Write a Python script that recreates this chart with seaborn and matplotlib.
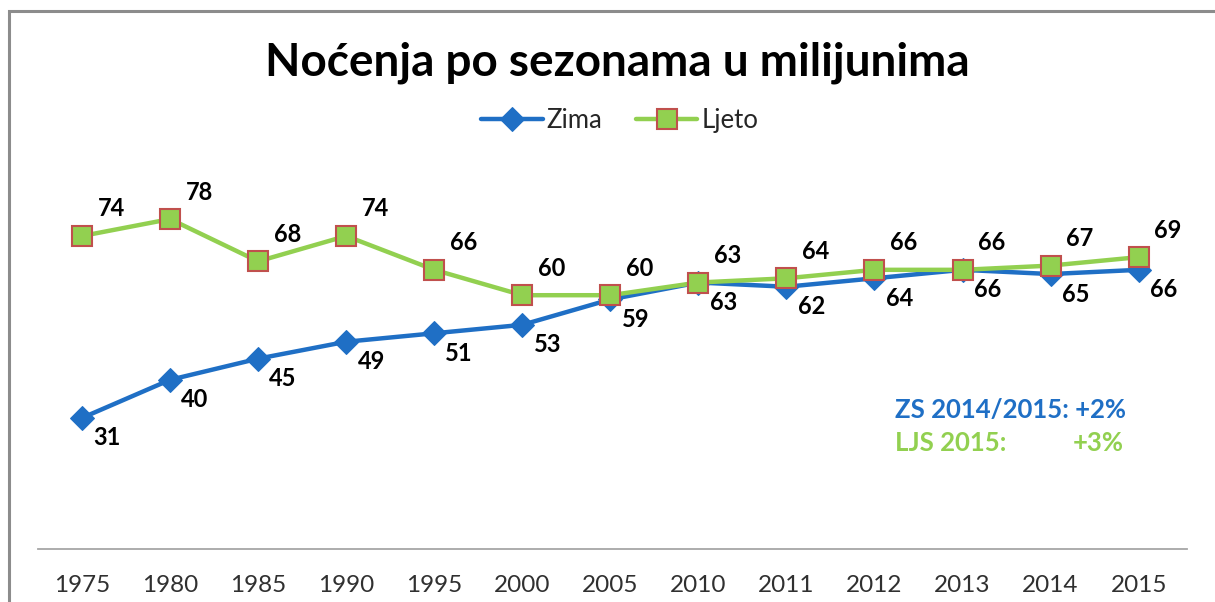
import numpy as np
import pandas as pd
import matplotlib
matplotlib.use("Agg")
import matplotlib.pyplot as plt
import seaborn as sns
from matplotlib.patches import Rectangle

# podaci (milijuni nocenja)
godine = ["1975", "1980", "1985", "1990", "1995", "2000", "2005",
          "2010", "2011", "2012", "2013", "2014", "2015"]
zima = [31, 40, 45, 49, 51, 53, 59, 63, 62, 64, 66, 65, 66]
ljeto = [74, 78, 68, 74, 66, 60, 60, 63, 64, 66, 66, 67, 69]

sns.set_theme(style="white")
plt.rcParams["font.family"] = ["Lato", "DejaVu Sans"]

plava = "#1F6FC5"
zelena = "#92D050"
crvena = "#C0504D"

poz = np.arange(len(godine))
df = pd.DataFrame({"poz": poz, "Zima": zima, "Ljeto": ljeto})

fig = plt.figure(figsize=(12.15, 6.02), dpi=100)
ax = fig.add_axes([0.0313, 0.088, 0.9457, 0.7027])

sns.lineplot(data=df, x="poz", y="Zima", ax=ax, color=plava, linewidth=3.2,
             marker="D", markersize=12.5, markerfacecolor=plava,
             markeredgecolor=plava, label="Zima")
sns.lineplot(data=df, x="poz", y="Ljeto", ax=ax, color=zelena, linewidth=3.2,
             marker="s", markersize=14, markerfacecolor=zelena,
             markeredgecolor=crvena, markeredgewidth=1.5, label="Ljeto")

for x, v in zip(poz, zima):
    ax.annotate(str(v), (x, v), xytext=(25, -20), textcoords="offset pixels",
                ha="center", va="center", fontsize=17, fontweight="bold",
                color="black")
for x, v in zip(poz, ljeto):
    ax.annotate(str(v), (x, v), xytext=(29, 27), textcoords="offset pixels",
                ha="center", va="center", fontsize=17, fontweight="bold",
                color="black")

ax.set_xlim(-0.5, 12.55)
ax.set_ylim(0, 100)
ax.set_xticks(poz)
ax.set_xticklabels(godine, fontsize=17.5, color="#303030")
ax.tick_params(axis="x", length=0, pad=19)
ax.set_yticks([])
ax.set_xlabel("")
ax.set_ylabel("")
for s in ["top", "left", "right"]:
    ax.spines[s].set_visible(False)
ax.spines["bottom"].set_color("#A6A6A6")
ax.spines["bottom"].set_linewidth(1.3)

fig.text(0.508, 0.895, "Noćenja po sezonama u milijunima", ha="center",
         va="center", fontsize=33, fontweight="bold", color="black")

ax.legend(loc="center", bbox_to_anchor=(0.51, 0.80),
          bbox_transform=fig.transFigure, ncol=2, frameon=False,
          fontsize=18.5, handlelength=2.4, columnspacing=1.3, handletextpad=0.15)

fig.text(895 / 1215, 1 - 410 / 602, "ZS 2014/2015: +2%", ha="left",
         va="center", fontsize=18.5, fontweight="bold", color=plava)
fig.text(895 / 1215, 1 - 443 / 602, "LJS 2015:", ha="left",
         va="center", fontsize=18.5, fontweight="bold", color=zelena)
fig.text(1124 / 1215, 1 - 443 / 602, "+3%", ha="right",
         va="center", fontsize=18.5, fontweight="bold", color=zelena)

# okvir grafikona
fig.patches.append(Rectangle((9 / 1215, -0.1), 1.2, 1 - 11 / 602 + 0.1,
                             transform=fig.transFigure, fill=False,
                             edgecolor="#8C8C8C", linewidth=2.2))

fig.savefig("out.png", dpi=100)
